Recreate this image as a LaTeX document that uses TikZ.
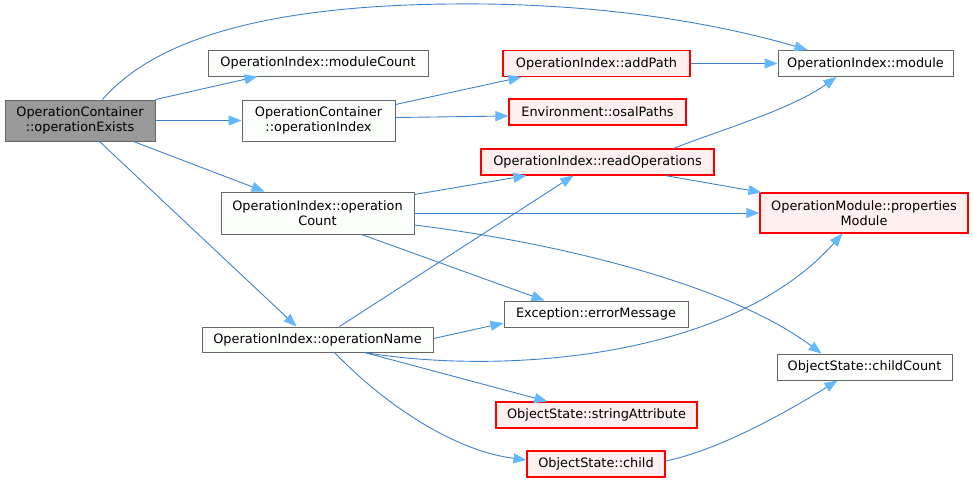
\documentclass[tikz,border=0pt]{standalone}
\usepackage{fontspec}
\setmainfont{DejaVu Sans}
\usetikzlibrary{arrows.meta,calc}

\definecolor{kante}{HTML}{3D82CC}
\definecolor{spitze}{HTML}{63B8FF}
\definecolor{rahmen}{HTML}{666666}
\definecolor{rotrand}{HTML}{FF0000}
\definecolor{rotfill}{HTML}{FFF0F0}
\definecolor{grau}{HTML}{999999}
\definecolor{weiss}{HTML}{FCFEFC}

\begin{document}
\begin{tikzpicture}[x=1pt,y=-1pt,
    font=\fontsize{12.9}{14.5}\selectfont,
    fkt/.style={draw=rahmen,fill=weiss,line width=1pt,inner sep=0pt,align=center,minimum height=26},
    fktrot/.style={fkt,draw=rotrand,fill=rotfill,line width=1.2pt},
    start/.style={fkt,fill=grau},
    pfeil/.style={draw=kante,line width=0.9pt,-{Triangle[length=13pt,width=10pt,fill=spitze,color=spitze]}}]
  \useasboundingbox (0,0) rectangle (973,483);

  % Knoten links
  \node[start,minimum width=150,minimum height=41] (exists) at (80,120.5) {OperationContainer\\::operationExists};
  \node[fkt,minimum width=220] (modcount) at (318,63) {OperationIndex::moduleCount};
  \node[fkt,minimum width=153,minimum height=41] (opindex) at (318.5,120.5) {OperationContainer\\::operationIndex};
  \node[fkt,minimum width=193,minimum height=42] (opcount) at (317.5,213) {OperationIndex::operation\\Count};
  \node[fkt,minimum width=231,minimum height=25] (opname) at (317.5,339.5) {OperationIndex::operationName};

  % Knoten Mitte
  \node[fktrot,minimum width=187] (addpath) at (596.5,63.5) {OperationIndex::addPath};
  \node[fktrot,minimum width=177] (osal) at (597.5,112) {Environment::osalPaths};
  \node[fktrot,minimum width=233] (readops) at (597.5,162) {OperationIndex::readOperations};
  \node[fkt,minimum width=184] (errmsg) at (596,314) {Exception::errorMessage};
  \node[fktrot,minimum width=201] (strattr) at (596.5,415) {ObjectState::stringAttribute};
  \node[fktrot,minimum width=138] (child) at (596,464) {ObjectState::child};

  % Knoten rechts
  \node[fkt,minimum width=175] (module) at (865.5,63.5) {OperationIndex::module};
  \node[fktrot,minimum width=208,minimum height=40] (propmod) at (864,213) {OperationModule::properties\\Module};
  \node[fkt,minimum width=175] (childcount) at (864.5,367) {ObjectState::childCount};

  % Aufrufe von operationExists
  \coordinate (oben) at (450,4);
  \draw[pfeil] ($(exists.north west)+(98,0)$) .. controls (150,45) and (250,6) .. (oben)
    .. controls (620,2) and (740,30) .. ($(module.north west)+(30,0)$);
  \draw[pfeil] (exists.north east) -- ($(modcount.south west)+(50,0)$);
  \draw[pfeil] (exists) -- (opindex);
  \draw[pfeil] ($(exists.south east)+(-22,0)$) -- ($(opcount.north west)+(44,0)$);
  \draw[pfeil] ($(exists.south west)+(95,0)$) -- ($(opname.north west)+(95,0)$);

  % operationIndex, addPath, readOperations
  \draw[pfeil] ($(opindex.north east)+(0,5)$) -- ($(addpath.south west)+(19,0)$);
  \draw[pfeil] ($(opindex.east)+(0,-3)$) -- ($(osal.west)+(0,4)$);
  \draw[pfeil] (addpath) -- (module);
  \draw[pfeil] ($(readops.north east)+(-41,0)$) .. controls (720,130) and (790,110) .. ($(module.south west)+(59,0)$);
  \draw[pfeil] ($(readops.south east)+(-49,0)$) -- ($(propmod.north west)+(2,0)$);

  % operationCount
  \draw[pfeil] ($(opcount.north east)+(0,3)$) -- ($(readops.south west)+(46,0)$);
  \draw[pfeil] (opcount) -- (propmod);
  \draw[pfeil] ($(opcount.south west)+(141,0)$) -- ($(errmsg.north west)+(41,0)$);
  \draw[pfeil] ($(opcount.east)+(0,12)$) .. controls (560,243) and (730,285) .. ($(childcount.north west)+(45,0)$);

  % operationName
  \draw[pfeil] ($(opname.north west)+(138,0)$) -- ($(readops.south west)+(93,0)$);
  \draw[pfeil] ($(opname.east)+(0,-1)$) -- ($(errmsg.west)+(0,9)$);
  \draw[pfeil] ($(opname.south west)+(163,0)$) .. controls (500,375) and (730,360) .. ($(propmod.south west)+(83,0)$);
  \draw[pfeil] ($(opname.south west)+(163,0)$) -- ($(strattr.north west)+(52,0)$);
  \draw[pfeil] ($(opname.south west)+(133,0)$) .. controls (380,400) and (450,450) .. ($(child.west)+(0,-4)$);

  % child
  \draw[pfeil] ($(child.east)+(0,-3)$) .. controls (720,450) and (790,410) .. ($(childcount.south west)+(61,0)$);
\end{tikzpicture}
\end{document}
